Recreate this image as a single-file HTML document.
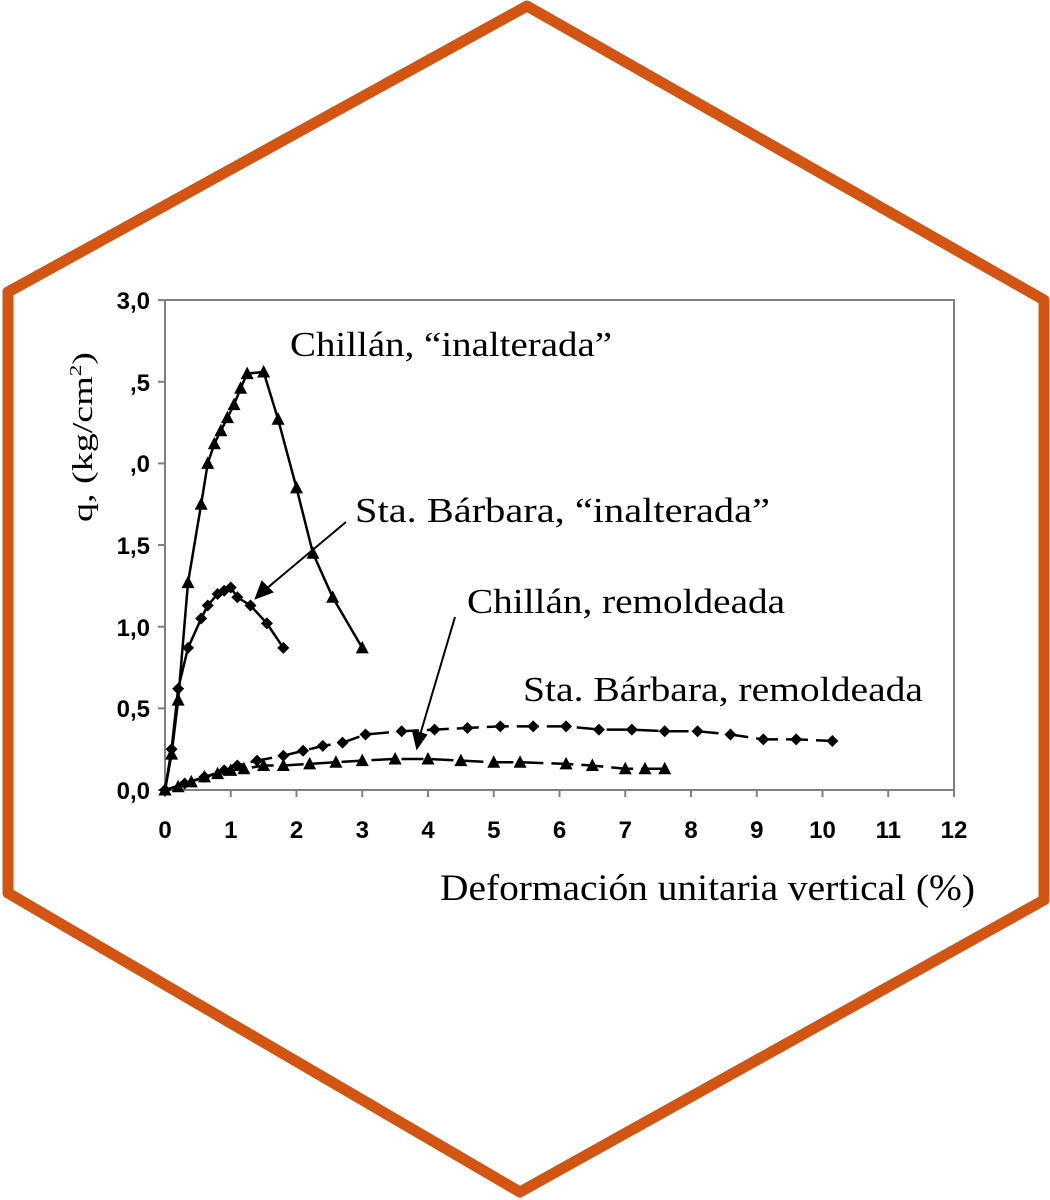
<!DOCTYPE html>
<html><head><meta charset="utf-8"><style>
html,body{margin:0;padding:0;background:#fff;width:1050px;height:1200px;overflow:hidden}
svg{display:block}
.t{font-family:"Liberation Serif",serif;font-size:35px;fill:#000}
.n{font-family:"Liberation Sans",sans-serif;font-weight:bold;font-size:24px;fill:#000}
</style></head><body>
<svg id="s" width="1050" height="1200" viewBox="0 0 1050 1200" xmlns="http://www.w3.org/2000/svg">
<polygon points="527,6 1044,300 1044,900 520,1192 8,893 8,292" fill="#fff" stroke="#d35514" stroke-width="11" stroke-linejoin="round"/>
<rect x="165" y="300" width="789" height="490" fill="none" stroke="#808080" stroke-width="2"/>
<g id="ticks" stroke="#808080" stroke-width="2"></g>
<g class="n" text-anchor="end">
<text x="150" y="309">3,0</text>
<text x="150" y="391">,5</text>
<text x="150" y="472">,0</text>
<text x="150" y="554">1,5</text>
<text x="150" y="636">1,0</text>
<text x="150" y="717">0,5</text>
<text x="150" y="799">0,0</text>
</g>
<g id="xl" class="n" text-anchor="middle"></g>
<text class="t" transform="translate(92,522) rotate(-90)" style="font-size:28px" textLength="170" lengthAdjust="spacingAndGlyphs">q, (kg/cm<tspan dy="-11" style="font-size:17px">2</tspan><tspan dy="11">)</tspan></text>
<text class="t" x="440" y="900" textLength="535" lengthAdjust="spacingAndGlyphs" style="font-size:37px">Deformación unitaria vertical (%)</text>
<text class="t" x="290" y="356" textLength="322" lengthAdjust="spacingAndGlyphs">Chillán, “inalterada”</text>
<text class="t" x="355" y="522" textLength="415" lengthAdjust="spacingAndGlyphs">Sta. Bárbara, “inalterada”</text>
<text class="t" x="467" y="613" textLength="318" lengthAdjust="spacingAndGlyphs">Chillán, remoldeada</text>
<text class="t" x="523" y="701" textLength="400" lengthAdjust="spacingAndGlyphs">Sta. Bárbara, remoldeada</text>
<g stroke="#000" stroke-width="2" fill="#000">
<line x1="346" y1="522" x2="266" y2="589"/>
<polygon points="256,598 262,582 272,592"/>
<line x1="455" y1="617" x2="420" y2="735"/>
<polygon points="417,748 413,731 426,735"/>
</g>
<g id="data"></g>
</svg>
<script>
var X=function(v){return 165+65.75*v},Y=function(q){return 790-163.3*q};
var s='',t='';
for(var i=0;i<=12;i++){t+='<line x1="'+X(i)+'" y1="790" x2="'+X(i)+'" y2="797"/>';
document.getElementById('xl').innerHTML+='<text x="'+X(i)+'" y="838">'+i+'</text>';}
for(var j=0;j<=6;j++){t+='<line x1="158" y1="'+Y(j*0.5)+'" x2="165" y2="'+Y(j*0.5)+'"/>';}
document.getElementById('ticks').innerHTML=t;
function tri(x,y){return '<polygon points="'+x+','+(y-7)+' '+(x-6.5)+','+(y+5.5)+' '+(x+6.5)+','+(y+5.5)+'"/>';}
function dia(x,y){return '<polygon points="'+x+','+(y-6)+' '+(x+6)+','+y+' '+x+','+(y+6)+' '+(x-6)+','+y+'"/>';}
function ser(d,m,dash){var p=d.map(function(a){return X(a[0])+','+Y(a[1])}).join(' ');
s+='<polyline points="'+p+'" fill="none" stroke="#000" stroke-width="2.5"'+(dash?' stroke-dasharray="22,8"':'')+'/>';
d.forEach(function(a){s+=m(X(a[0]),Y(a[1]));});}
ser([[0,0],[0.1,0.22],[0.2,0.55],[0.35,1.27],[0.55,1.75],[0.65,2.0],[0.75,2.12],[0.85,2.2],[0.95,2.28],[1.05,2.36],[1.15,2.46],[1.25,2.55],[1.5,2.56],[1.72,2.27],[2.0,1.85],[2.25,1.45],[2.55,1.18],[3.0,0.87]],tri);
ser([[0,0],[0.1,0.25],[0.2,0.62],[0.35,0.87],[0.55,1.05],[0.65,1.13],[0.8,1.2],[0.9,1.22],[1.0,1.24],[1.1,1.18],[1.3,1.13],[1.55,1.02],[1.8,0.87]],dia);
ser([[0,0],[0.2,0.02],[0.4,0.05],[0.6,0.08],[0.8,0.1],[1.0,0.12],[1.2,0.13],[1.5,0.15],[1.8,0.15],[2.2,0.16],[2.6,0.17],[3.0,0.18],[3.5,0.19],[4.0,0.19],[4.5,0.18],[5.0,0.17],[5.4,0.17],[6.1,0.16],[6.5,0.15],[7.0,0.13],[7.3,0.13],[7.6,0.13]],tri,true);
ser([[0,0],[0.3,0.04],[0.6,0.08],[0.9,0.12],[1.1,0.15],[1.4,0.18],[1.8,0.21],[2.1,0.24],[2.4,0.27],[2.7,0.29],[3.05,0.34],[3.6,0.36],[4.1,0.37],[4.6,0.38],[5.1,0.39],[5.6,0.39],[6.1,0.39],[6.6,0.37],[7.1,0.37],[7.6,0.36],[8.1,0.36],[8.6,0.34],[9.1,0.31],[9.6,0.31],[10.15,0.3]],dia,true);
document.getElementById('data').innerHTML=s;
</script>
</body></html>
